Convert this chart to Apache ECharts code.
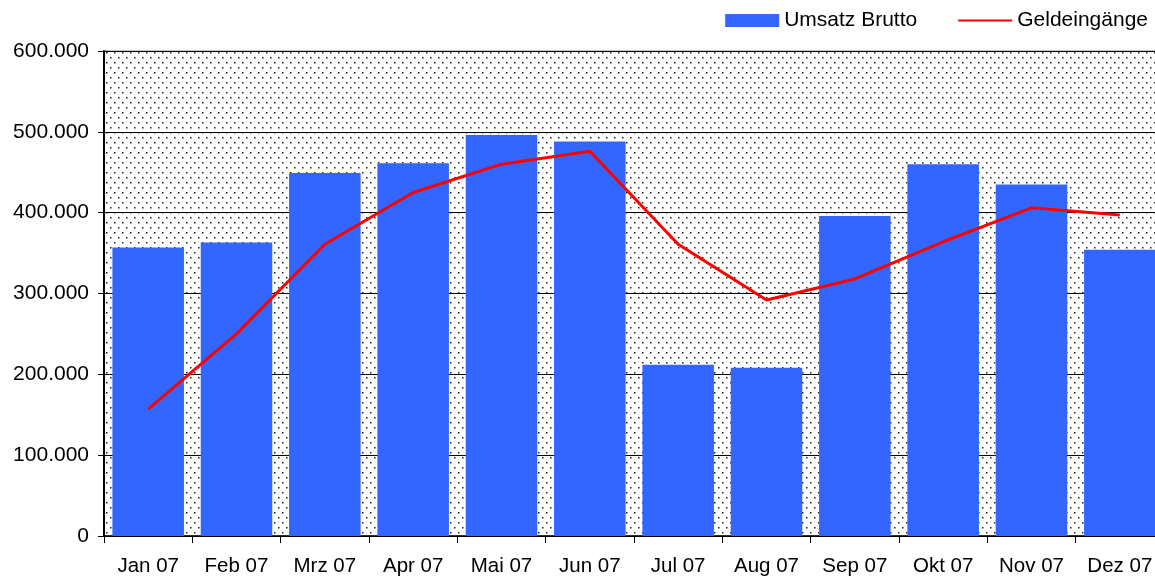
<!DOCTYPE html>
<html>
<head>
<meta charset="utf-8">
<script src="https://cdn.jsdelivr.net/npm/echarts@6/dist/echarts.min.js"></script>
<style>
  html, body { margin: 0; padding: 0; background: #fff; }
  #chart { width: 1155px; height: 581px; }
</style>
</head>
<body>
<div id="chart"></div>
<script>
const months = ['Jan 07', 'Feb 07', 'Mrz 07', 'Apr 07', 'Mai 07', 'Jun 07', 'Jul 07', 'Aug 07', 'Sep 07', 'Okt 07', 'Nov 07', 'Dez 07']
const umsatzBrutto = [357000, 363000, 449000, 461000, 496000, 488000, 212000, 208000, 396000, 460000, 435000, 354000]
const geldeingaenge = [157000, 250000, 361000, 425000, 460000, 476000, 361000, 292000, 318000, 364000, 406000, 397000]

// dotted plot background like the old office chart
function dotPattern() {
  const c = document.createElement('canvas')
  c.width = 8
  c.height = 10
  const ctx = c.getContext('2d')
  ctx.fillStyle = '#fff'
  ctx.fillRect(0, 0, 8, 10)
  ctx.fillStyle = '#222'
  ctx.fillRect(2, 2, 1.5, 1.5)
  ctx.fillRect(6, 7, 1.5, 1.5)
  return c
}

function fmt(v) {
  return String(v).replace(/\B(?=(\d{3})+(?!\d))/g, '.')
}

const chart = echarts.init(document.getElementById('chart'))
const font = 'Liberation Sans, Arial, sans-serif'

chart.setOption({
  animation: false,
  backgroundColor: '#fff',
  textStyle: { fontFamily: font },
  legend: {
    right: 2,
    top: 5,
    itemWidth: 54,
    itemHeight: 13,
    itemGap: 41,
    textStyle: { fontSize: 21, color: '#000', fontFamily: font },
    data: [
      { name: 'Umsatz Brutto', icon: 'rect' },
      { name: 'Geldeingänge', icon: 'path://M0,0 L0,0 M0,5.5 L54,5.5 L54,7.5 L0,7.5 Z M0,13 L0,13' },
    ],
  },
  grid: {
    left: 104,
    width: 1060,
    top: 51,
    bottom: 45,
    outerBoundsMode: 'none',
    show: true,
    backgroundColor: { image: dotPattern(), repeat: 'repeat' },
    borderColor: '#808080',
    borderWidth: 1,
  },
  xAxis: {
    type: 'category',
    data: months,
    axisLine: { lineStyle: { color: '#000', width: 1.5 } },
    axisTick: { show: true, length: 7, interval: 0, alignWithLabel: false, lineStyle: { color: '#000' } },
    axisLabel: { interval: 0, color: '#000', fontSize: 20.5, margin: 20, fontFamily: font },
  },
  yAxis: {
    type: 'value',
    min: 0,
    max: 600000,
    interval: 100000,
    axisLine: { show: true, lineStyle: { color: '#000', width: 2 } },
    axisTick: { show: true, length: 6, lineStyle: { color: '#000' } },
    axisLabel: { color: '#000', fontSize: 21, margin: 15, fontFamily: font, formatter: fmt },
    splitLine: { show: true, lineStyle: { color: '#000', width: 1 } },
  },
  series: [
    {
      name: 'Umsatz Brutto',
      type: 'bar',
      data: umsatzBrutto,
      barCategoryGap: '19%',
      itemStyle: { color: '#3366ff' },
    },
    {
      name: 'Geldeingänge',
      type: 'line',
      data: geldeingaenge,
      symbol: 'none',
      lineStyle: { color: '#ff0000', width: 3 },
      itemStyle: { color: '#ff0000' },
    },
  ],
})
</script>
</body>
</html>
